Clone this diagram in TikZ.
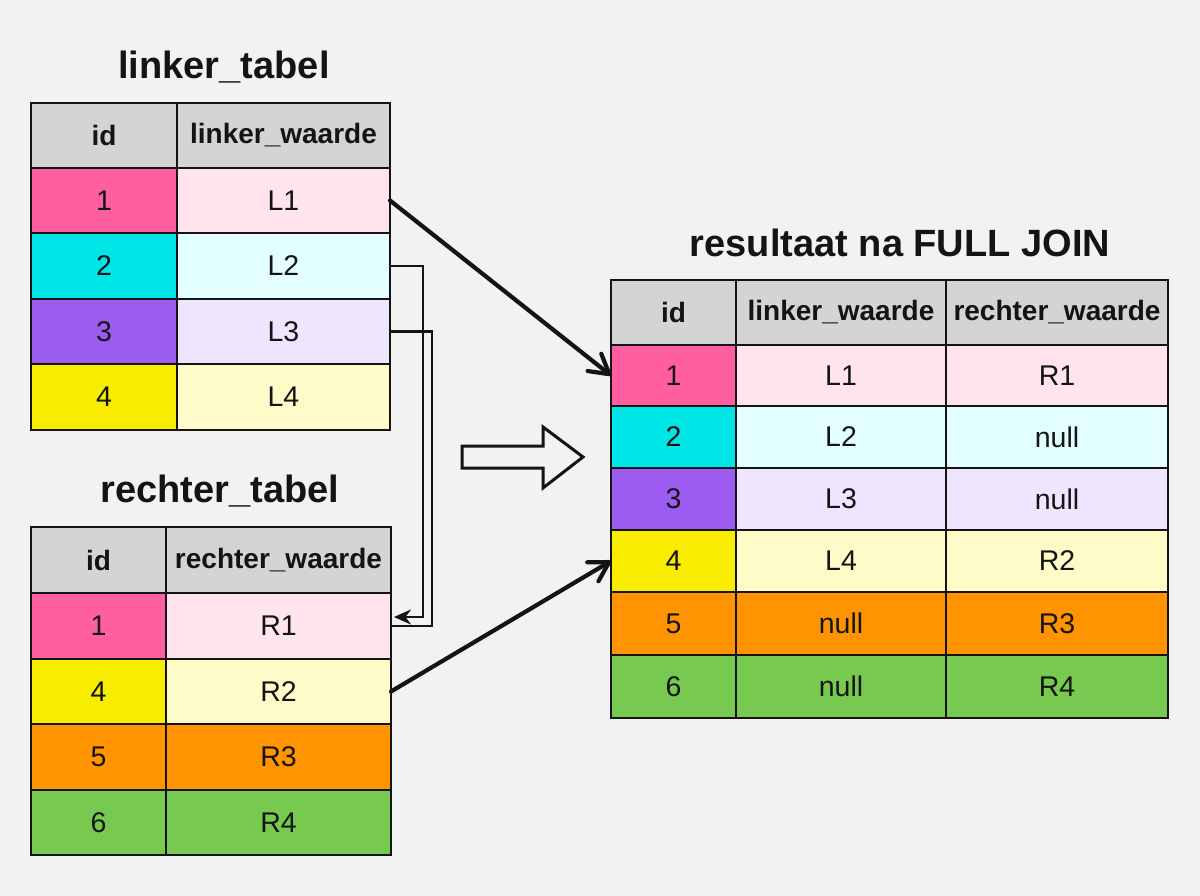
\documentclass[tikz,border=0pt]{standalone}
\usepackage{fontspec}
\setmainfont{Liberation Sans}
\usetikzlibrary{arrows.meta,calc}
\definecolor{bg}{HTML}{F2F2F2}
\definecolor{ink}{HTML}{141414}
\definecolor{hdr}{HTML}{D4D4D4}
\definecolor{pinkA}{HTML}{FF5F9E}
\definecolor{pinkB}{HTML}{FFE4EE}
\definecolor{cyanA}{HTML}{00E5E5}
\definecolor{cyanB}{HTML}{E2FEFF}
\definecolor{purpA}{HTML}{9C5CF0}
\definecolor{purpB}{HTML}{EEE6FF}
\definecolor{yelA}{HTML}{F8EC00}
\definecolor{yelB}{HTML}{FFFBC8}
\definecolor{oraA}{HTML}{FF9400}
\definecolor{grnA}{HTML}{77C94F}
\tikzset{
  x=1pt,y=-1pt,
  cell/.style={draw=ink,line width=2.6pt,inner sep=0pt,outer sep=0pt,text=ink,
    font=\fontsize{28.5}{30}\selectfont},
  hcell/.style={cell,fill=hdr,font=\fontsize{28}{30}\selectfont\bfseries},
  ttl/.style={text=ink,font=\fontsize{38}{42}\selectfont\bfseries},
  diag/.style={draw=ink,line width=4.2pt,line cap=round,-{Straight Barb[length=19pt,width=22pt,line cap=round,line join=round]}},
  elb/.style={draw=ink,line width=2.6pt},
}
\newcommand\tcell[7]{\node[#2,minimum width={#5-#3},minimum height={#6-#4}] (#1) at ({(#3+#5)/2},{(#4+#6)/2}) {#7};}
\begin{document}
\begin{tikzpicture}
\fill[bg] (0,0) rectangle (1200,896);
\useasboundingbox (0,0) rectangle (1200,896);

% titles
\node[ttl] (t1) at (224,67) {linker\_tabel};
\node[ttl] (t2) at (220,491) {rechter\_tabel};
\node[ttl] (t3) at (900,243) {resultaat na FULL JOIN};

% linker_tabel
\tcell{Lh1}{hcell}{31}{103}{177}{168}{id}
\tcell{Lh2}{hcell}{177}{103}{390}{168}{linker\_waarde}
\tcell{Li1}{cell,fill=pinkA}{31}{168}{177}{233}{1}
\tcell{L1}{cell,fill=pinkB}{177}{168}{390}{233}{L1}
\tcell{Li2}{cell,fill=cyanA}{31}{233}{177}{299}{2}
\tcell{L2}{cell,fill=cyanB}{177}{233}{390}{299}{L2}
\tcell{Li3}{cell,fill=purpA}{31}{299}{177}{364}{3}
\tcell{L3}{cell,fill=purpB}{177}{299}{390}{364}{L3}
\tcell{Li4}{cell,fill=yelA}{31}{364}{177}{430}{4}
\tcell{L4}{cell,fill=yelB}{177}{364}{390}{430}{L4}

% rechter_tabel
\tcell{Rh1}{hcell}{31}{527}{166}{593}{id}
\tcell{Rh2}{hcell}{166}{527}{391}{593}{rechter\_waarde}
\tcell{Ri1}{cell,fill=pinkA}{31}{593}{166}{659}{1}
\tcell{R1}{cell,fill=pinkB}{166}{593}{391}{659}{R1}
\tcell{Ri2}{cell,fill=yelA}{31}{659}{166}{724}{4}
\tcell{R2}{cell,fill=yelB}{166}{659}{391}{724}{R2}
\tcell{Ri3}{cell,fill=oraA}{31}{724}{166}{790}{5}
\tcell{R3}{cell,fill=oraA}{166}{724}{391}{790}{R3}
\tcell{Ri4}{cell,fill=grnA}{31}{790}{166}{855}{6}
\tcell{R4}{cell,fill=grnA}{166}{790}{391}{855}{R4}

% result
\tcell{Xh1}{hcell}{611}{280}{736}{345}{id}
\tcell{Xh2}{hcell}{736}{280}{946}{345}{linker\_waarde}
\tcell{Xh3}{hcell}{946}{280}{1168}{345}{rechter\_waarde}
\tcell{X1a}{cell,fill=pinkA}{611}{345}{736}{406}{1}
\tcell{X1b}{cell,fill=pinkB}{736}{345}{946}{406}{L1}
\tcell{X1c}{cell,fill=pinkB}{946}{345}{1168}{406}{R1}
\tcell{X2a}{cell,fill=cyanA}{611}{406}{736}{468}{2}
\tcell{X2b}{cell,fill=cyanB}{736}{406}{946}{468}{L2}
\tcell{X2c}{cell,fill=cyanB}{946}{406}{1168}{468}{null}
\tcell{X3a}{cell,fill=purpA}{611}{468}{736}{530}{3}
\tcell{X3b}{cell,fill=purpB}{736}{468}{946}{530}{L3}
\tcell{X3c}{cell,fill=purpB}{946}{468}{1168}{530}{null}
\tcell{X4a}{cell,fill=yelA}{611}{530}{736}{592}{4}
\tcell{X4b}{cell,fill=yelB}{736}{530}{946}{592}{L4}
\tcell{X4c}{cell,fill=yelB}{946}{530}{1168}{592}{R2}
\tcell{X5a}{cell,fill=oraA}{611}{592}{736}{655}{5}
\tcell{X5b}{cell,fill=oraA}{736}{592}{946}{655}{null}
\tcell{X5c}{cell,fill=oraA}{946}{592}{1168}{655}{R3}
\tcell{X6a}{cell,fill=grnA}{611}{655}{736}{718}{6}
\tcell{X6b}{cell,fill=grnA}{736}{655}{946}{718}{null}
\tcell{X6c}{cell,fill=grnA}{946}{655}{1168}{718}{R4}

% connectors
\draw[diag] (L1.east) -- (X1a.west);
\draw[diag] (R2.east) -- (X4a.west);
\coordinate (r1in) at ($(R1.east)+(3,-9)$);
\draw[elb,-{Stealth[length=17pt,width=15pt]}] (L2.east) -- ++(33,0) |- (r1in);
\draw[elb] (L3.east) -- ++(42,0) |- (R1.east);

% hollow arrow
\draw[draw=ink,fill=bg,line width=3pt,line join=miter]
  (462,446) -- (543,446) -- (543,427) -- (583,457) -- (543,488) -- (543,468) -- (462,468) -- cycle;
\end{tikzpicture}
\end{document}
